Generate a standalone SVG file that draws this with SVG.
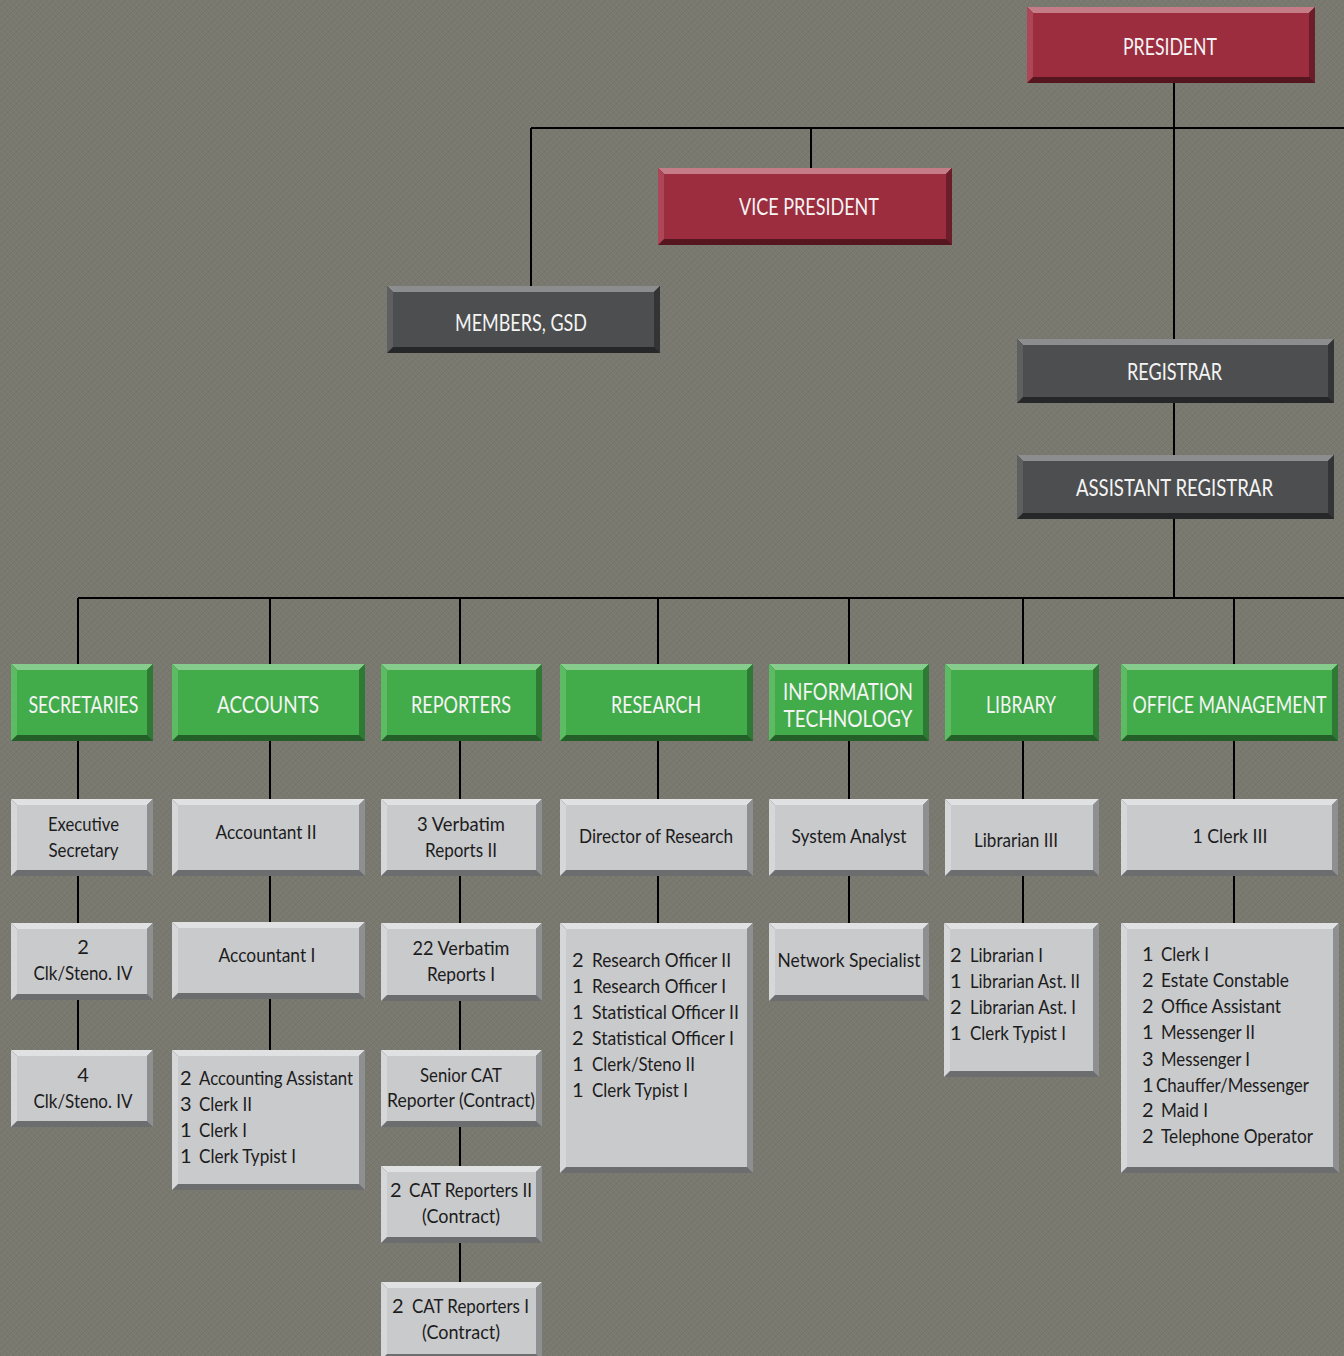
<svg xmlns="http://www.w3.org/2000/svg" width="1344" height="1356" viewBox="0 0 1344 1356">
<style>
.bgc{fill:#797970}
.ln{stroke:#000;stroke-width:2;fill:none}
.red .b{fill:#55161f}.red .t{fill:#c47c87}.red .l{fill:#ad4656}.red .rt{fill:#6b1d2a}.red .f{fill:#9b2d3f}
.dk .b{fill:#262729}.dk .t{fill:#8b8d8f}.dk .l{fill:#5e5f61}.dk .rt{fill:#333436}.dk .f{fill:#4d4e50}
.gr .b{fill:#245f29}.gr .t{fill:#86cc8c}.gr .l{fill:#5cbb63}.gr .rt{fill:#2e7a34}.gr .f{fill:#42ab4a}
.lt .b{fill:#6c6d6f}.lt .t{fill:#e0e1e3}.lt .l{fill:#d6d7d9}.lt .rt{fill:#8e8f91}.lt .f{fill:#c9cacc}
.h{font-family:Lato,"Liberation Sans",sans-serif;font-size:23px;fill:#f4f4f4;text-anchor:middle}
.x{font-family:Lato,"Liberation Sans",sans-serif;font-size:20px;fill:#1c1c1c}
.c{text-anchor:middle}
</style>
<defs>
<pattern id="tex" width="6" height="6" patternUnits="userSpaceOnUse">
<path d="M0,6 L6,0" stroke="#000" stroke-opacity="0.05" stroke-width="1"/>
<path d="M0,0 L6,6" stroke="#fff" stroke-opacity="0.04" stroke-width="1"/>
</pattern>
</defs>
<rect class="bgc" x="0" y="0" width="1344" height="1356"/>
<rect fill="url(#tex)" x="0" y="0" width="1344" height="1356"/>

<g id="connectors" class="ln">
<path d="M1174,83 V598"/>
<path d="M531,128 H1344"/>
<path d="M811,128 V168"/>
<path d="M531,128 V286"/>
<path d="M78,598 H1344"/>
<path d="M78,598 V1050"/>
<path d="M270,598 V1050"/>
<path d="M460,598 V1282"/>
<path d="M658,598 V923"/>
<path d="M849,598 V923"/>
<path d="M1023,598 V923"/>
<path d="M1234,598 V923"/>
</g>

<g id="president" class="red">
<rect class="b" x="1027" y="7" width="288" height="76"/>
<path class="t" d="M1027,7 h288 l-6,6 h-276 z"/>
<path class="l" d="M1027,7 l6,6 v64 l-6,6 z"/>
<path class="rt" d="M1315,7 v76 l-6,-6 v-64 z"/>
<rect class="f" x="1033" y="13" width="276" height="64"/>
<text class="h" x="1170" y="55" textLength="94" lengthAdjust="spacingAndGlyphs">PRESIDENT</text>
</g>

<g id="vice-president" class="red">
<rect class="b" x="658" y="168" width="294" height="77"/>
<path class="t" d="M658,168 h294 l-6,6 h-282 z"/>
<path class="l" d="M658,168 l6,6 v65 l-6,6 z"/>
<path class="rt" d="M952,168 v77 l-6,-6 v-65 z"/>
<rect class="f" x="664" y="174" width="282" height="65"/>
<text class="h" x="809" y="215" textLength="140" lengthAdjust="spacingAndGlyphs">VICE PRESIDENT</text>
</g>

<g id="members-gsd" class="dk">
<rect class="b" x="387" y="286" width="273" height="67"/>
<path class="t" d="M387,286 h273 l-6,6 h-261 z"/>
<path class="l" d="M387,286 l6,6 v55 l-6,6 z"/>
<path class="rt" d="M660,286 v67 l-6,-6 v-55 z"/>
<rect class="f" x="393" y="292" width="261" height="55"/>
<text class="h" x="521" y="331" textLength="132" lengthAdjust="spacingAndGlyphs">MEMBERS, GSD</text>
</g>

<g id="registrar" class="dk">
<rect class="b" x="1017" y="339" width="317" height="64"/>
<path class="t" d="M1017,339 h317 l-6,6 h-305 z"/>
<path class="l" d="M1017,339 l6,6 v52 l-6,6 z"/>
<path class="rt" d="M1334,339 v64 l-6,-6 v-52 z"/>
<rect class="f" x="1023" y="345" width="305" height="52"/>
<text class="h" x="1174.5" y="380" textLength="95" lengthAdjust="spacingAndGlyphs">REGISTRAR</text>
</g>

<g id="assistant-registrar" class="dk">
<rect class="b" x="1017" y="455" width="317" height="64"/>
<path class="t" d="M1017,455 h317 l-6,6 h-305 z"/>
<path class="l" d="M1017,455 l6,6 v52 l-6,6 z"/>
<path class="rt" d="M1334,455 v64 l-6,-6 v-52 z"/>
<rect class="f" x="1023" y="461" width="305" height="52"/>
<text class="h" x="1174.5" y="496" textLength="197" lengthAdjust="spacingAndGlyphs">ASSISTANT REGISTRAR</text>
</g>

<g id="secretaries" class="gr">
<rect class="b" x="11" y="664" width="142" height="77"/>
<path class="t" d="M11,664 h142 l-6,6 h-130 z"/>
<path class="l" d="M11,664 l6,6 v65 l-6,6 z"/>
<path class="rt" d="M153,664 v77 l-6,-6 v-65 z"/>
<rect class="f" x="17" y="670" width="130" height="65"/>
<text class="h" x="83.5" y="713" textLength="110" lengthAdjust="spacingAndGlyphs">SECRETARIES</text>
</g>

<g id="accounts" class="gr">
<rect class="b" x="172" y="664" width="193" height="77"/>
<path class="t" d="M172,664 h193 l-6,6 h-181 z"/>
<path class="l" d="M172,664 l6,6 v65 l-6,6 z"/>
<path class="rt" d="M365,664 v77 l-6,-6 v-65 z"/>
<rect class="f" x="178" y="670" width="181" height="65"/>
<text class="h" x="268" y="713" textLength="102" lengthAdjust="spacingAndGlyphs">ACCOUNTS</text>
</g>

<g id="reporters" class="gr">
<rect class="b" x="381" y="664" width="161" height="77"/>
<path class="t" d="M381,664 h161 l-6,6 h-149 z"/>
<path class="l" d="M381,664 l6,6 v65 l-6,6 z"/>
<path class="rt" d="M542,664 v77 l-6,-6 v-65 z"/>
<rect class="f" x="387" y="670" width="149" height="65"/>
<text class="h" x="461" y="713" textLength="100" lengthAdjust="spacingAndGlyphs">REPORTERS</text>
</g>

<g id="research" class="gr">
<rect class="b" x="560" y="664" width="193" height="77"/>
<path class="t" d="M560,664 h193 l-6,6 h-181 z"/>
<path class="l" d="M560,664 l6,6 v65 l-6,6 z"/>
<path class="rt" d="M753,664 v77 l-6,-6 v-65 z"/>
<rect class="f" x="566" y="670" width="181" height="65"/>
<text class="h" x="656" y="713" textLength="90" lengthAdjust="spacingAndGlyphs">RESEARCH</text>
</g>

<g id="information-technology" class="gr">
<rect class="b" x="769" y="664" width="160" height="77"/>
<path class="t" d="M769,664 h160 l-6,6 h-148 z"/>
<path class="l" d="M769,664 l6,6 v65 l-6,6 z"/>
<path class="rt" d="M929,664 v77 l-6,-6 v-65 z"/>
<rect class="f" x="775" y="670" width="148" height="65"/>
<text class="h" x="848" y="700" textLength="130" lengthAdjust="spacingAndGlyphs">INFORMATION</text>
<text class="h" x="848" y="727" textLength="129" lengthAdjust="spacingAndGlyphs">TECHNOLOGY</text>
</g>

<g id="library" class="gr">
<rect class="b" x="945" y="664" width="154" height="77"/>
<path class="t" d="M945,664 h154 l-6,6 h-142 z"/>
<path class="l" d="M945,664 l6,6 v65 l-6,6 z"/>
<path class="rt" d="M1099,664 v77 l-6,-6 v-65 z"/>
<rect class="f" x="951" y="670" width="142" height="65"/>
<text class="h" x="1021" y="713" textLength="70" lengthAdjust="spacingAndGlyphs">LIBRARY</text>
</g>

<g id="office-management" class="gr">
<rect class="b" x="1121" y="664" width="217" height="77"/>
<path class="t" d="M1121,664 h217 l-6,6 h-205 z"/>
<path class="l" d="M1121,664 l6,6 v65 l-6,6 z"/>
<path class="rt" d="M1338,664 v77 l-6,-6 v-65 z"/>
<rect class="f" x="1127" y="670" width="205" height="65"/>
<text class="h" x="1229.5" y="713" textLength="194" lengthAdjust="spacingAndGlyphs">OFFICE MANAGEMENT</text>
</g>

<g id="executive-secretary" class="lt">
<rect class="b" x="11" y="799" width="142" height="77"/>
<path class="t" d="M11,799 h142 l-6,6 h-130 z"/>
<path class="l" d="M11,799 l6,6 v65 l-6,6 z"/>
<path class="rt" d="M153,799 v77 l-6,-6 v-65 z"/>
<rect class="f" x="17" y="805" width="130" height="65"/>
<text class="x c" x="83.5" y="831" textLength="71" lengthAdjust="spacingAndGlyphs">Executive</text>
<text class="x c" x="83.5" y="857" textLength="70" lengthAdjust="spacingAndGlyphs">Secretary</text>
</g>

<g id="accountant-ii" class="lt">
<rect class="b" x="172" y="799" width="193" height="77"/>
<path class="t" d="M172,799 h193 l-6,6 h-181 z"/>
<path class="l" d="M172,799 l6,6 v65 l-6,6 z"/>
<path class="rt" d="M365,799 v77 l-6,-6 v-65 z"/>
<rect class="f" x="178" y="805" width="181" height="65"/>
<text class="x c" x="266" y="839" textLength="101" lengthAdjust="spacingAndGlyphs">Accountant II</text>
</g>

<g id="verbatim-ii" class="lt">
<rect class="b" x="381" y="799" width="161" height="77"/>
<path class="t" d="M381,799 h161 l-6,6 h-149 z"/>
<path class="l" d="M381,799 l6,6 v65 l-6,6 z"/>
<path class="rt" d="M542,799 v77 l-6,-6 v-65 z"/>
<rect class="f" x="387" y="805" width="149" height="65"/>
<text class="x c" x="461" y="831" textLength="88" lengthAdjust="spacingAndGlyphs">3  Verbatim</text>
<text class="x c" x="461" y="857" textLength="72" lengthAdjust="spacingAndGlyphs">Reports II</text>
</g>

<g id="director-of-research" class="lt">
<rect class="b" x="560" y="799" width="193" height="77"/>
<path class="t" d="M560,799 h193 l-6,6 h-181 z"/>
<path class="l" d="M560,799 l6,6 v65 l-6,6 z"/>
<path class="rt" d="M753,799 v77 l-6,-6 v-65 z"/>
<rect class="f" x="566" y="805" width="181" height="65"/>
<text class="x c" x="656" y="843" textLength="154" lengthAdjust="spacingAndGlyphs">Director of Research</text>
</g>

<g id="system-analyst" class="lt">
<rect class="b" x="769" y="799" width="160" height="77"/>
<path class="t" d="M769,799 h160 l-6,6 h-148 z"/>
<path class="l" d="M769,799 l6,6 v65 l-6,6 z"/>
<path class="rt" d="M929,799 v77 l-6,-6 v-65 z"/>
<rect class="f" x="775" y="805" width="148" height="65"/>
<text class="x c" x="849" y="843" textLength="115" lengthAdjust="spacingAndGlyphs">System Analyst</text>
</g>

<g id="librarian-iii" class="lt">
<rect class="b" x="945" y="799" width="154" height="77"/>
<path class="t" d="M945,799 h154 l-6,6 h-142 z"/>
<path class="l" d="M945,799 l6,6 v65 l-6,6 z"/>
<path class="rt" d="M1099,799 v77 l-6,-6 v-65 z"/>
<rect class="f" x="951" y="805" width="142" height="65"/>
<text class="x c" x="1016" y="847" textLength="84" lengthAdjust="spacingAndGlyphs">Librarian III</text>
</g>

<g id="clerk-iii" class="lt">
<rect class="b" x="1121" y="799" width="217" height="77"/>
<path class="t" d="M1121,799 h217 l-6,6 h-205 z"/>
<path class="l" d="M1121,799 l6,6 v65 l-6,6 z"/>
<path class="rt" d="M1338,799 v77 l-6,-6 v-65 z"/>
<rect class="f" x="1127" y="805" width="205" height="65"/>
<text class="x c" x="1230" y="843" textLength="75" lengthAdjust="spacingAndGlyphs">1  Clerk III</text>
</g>

<g id="clk-steno-2" class="lt">
<rect class="b" x="11" y="923" width="142" height="77"/>
<path class="t" d="M11,923 h142 l-6,6 h-130 z"/>
<path class="l" d="M11,923 l6,6 v65 l-6,6 z"/>
<path class="rt" d="M153,923 v77 l-6,-6 v-65 z"/>
<rect class="f" x="17" y="929" width="130" height="65"/>
<text class="x c" x="83" y="954">2</text>
<text class="x c" x="83" y="980" textLength="99" lengthAdjust="spacingAndGlyphs">Clk/Steno. IV</text>
</g>

<g id="accountant-i" class="lt">
<rect class="b" x="172" y="922" width="193" height="77"/>
<path class="t" d="M172,922 h193 l-6,6 h-181 z"/>
<path class="l" d="M172,922 l6,6 v65 l-6,6 z"/>
<path class="rt" d="M365,922 v77 l-6,-6 v-65 z"/>
<rect class="f" x="178" y="928" width="181" height="65"/>
<text class="x c" x="267" y="962" textLength="97" lengthAdjust="spacingAndGlyphs">Accountant I</text>
</g>

<g id="verbatim-i" class="lt">
<rect class="b" x="381" y="923" width="161" height="78"/>
<path class="t" d="M381,923 h161 l-6,6 h-149 z"/>
<path class="l" d="M381,923 l6,6 v66 l-6,6 z"/>
<path class="rt" d="M542,923 v78 l-6,-6 v-66 z"/>
<rect class="f" x="387" y="929" width="149" height="66"/>
<text class="x c" x="461" y="955" textLength="97" lengthAdjust="spacingAndGlyphs">22  Verbatim</text>
<text class="x c" x="461" y="981" textLength="68" lengthAdjust="spacingAndGlyphs">Reports I</text>
</g>

<g id="research-staff" class="lt">
<rect class="b" x="560" y="923" width="193" height="250"/>
<path class="t" d="M560,923 h193 l-6,6 h-181 z"/>
<path class="l" d="M560,923 l6,6 v238 l-6,6 z"/>
<path class="rt" d="M753,923 v250 l-6,-6 v-238 z"/>
<rect class="f" x="566" y="929" width="181" height="238"/>
<text class="x" y="967"><tspan x="572">2</tspan><tspan x="592" textLength="139" lengthAdjust="spacingAndGlyphs">Research Officer II</tspan></text>
<text class="x" y="993"><tspan x="572">1</tspan><tspan x="592" textLength="134" lengthAdjust="spacingAndGlyphs">Research Officer I</tspan></text>
<text class="x" y="1019"><tspan x="572">1</tspan><tspan x="592" textLength="147" lengthAdjust="spacingAndGlyphs">Statistical Officer II</tspan></text>
<text class="x" y="1045"><tspan x="572">2</tspan><tspan x="592" textLength="142" lengthAdjust="spacingAndGlyphs">Statistical Officer I</tspan></text>
<text class="x" y="1071"><tspan x="572">1</tspan><tspan x="592" textLength="103" lengthAdjust="spacingAndGlyphs">Clerk/Steno II</tspan></text>
<text class="x" y="1097"><tspan x="572">1</tspan><tspan x="592" textLength="96" lengthAdjust="spacingAndGlyphs">Clerk Typist I</tspan></text>
</g>

<g id="network-specialist" class="lt">
<rect class="b" x="769" y="923" width="160" height="78"/>
<path class="t" d="M769,923 h160 l-6,6 h-148 z"/>
<path class="l" d="M769,923 l6,6 v66 l-6,6 z"/>
<path class="rt" d="M929,923 v78 l-6,-6 v-66 z"/>
<rect class="f" x="775" y="929" width="148" height="66"/>
<text class="x c" x="849" y="967" textLength="143" lengthAdjust="spacingAndGlyphs">Network Specialist</text>
</g>

<g id="library-staff" class="lt">
<rect class="b" x="944" y="923" width="155" height="154"/>
<path class="t" d="M944,923 h155 l-6,6 h-143 z"/>
<path class="l" d="M944,923 l6,6 v142 l-6,6 z"/>
<path class="rt" d="M1099,923 v154 l-6,-6 v-142 z"/>
<rect class="f" x="950" y="929" width="143" height="142"/>
<text class="x" y="962"><tspan x="950">2</tspan><tspan x="970" textLength="73" lengthAdjust="spacingAndGlyphs">Librarian I</tspan></text>
<text class="x" y="988"><tspan x="950">1</tspan><tspan x="970" textLength="110" lengthAdjust="spacingAndGlyphs">Librarian Ast. II</tspan></text>
<text class="x" y="1014"><tspan x="950">2</tspan><tspan x="970" textLength="106" lengthAdjust="spacingAndGlyphs">Librarian Ast. I</tspan></text>
<text class="x" y="1040"><tspan x="950">1</tspan><tspan x="970" textLength="96" lengthAdjust="spacingAndGlyphs">Clerk Typist I</tspan></text>
</g>

<g id="office-staff" class="lt">
<rect class="b" x="1121" y="923" width="218" height="250"/>
<path class="t" d="M1121,923 h218 l-6,6 h-206 z"/>
<path class="l" d="M1121,923 l6,6 v238 l-6,6 z"/>
<path class="rt" d="M1339,923 v250 l-6,-6 v-238 z"/>
<rect class="f" x="1127" y="929" width="206" height="238"/>
<text class="x" y="961"><tspan x="1142">1</tspan><tspan x="1161" textLength="48" lengthAdjust="spacingAndGlyphs">Clerk I</tspan></text>
<text class="x" y="987"><tspan x="1142">2</tspan><tspan x="1161" textLength="128" lengthAdjust="spacingAndGlyphs">Estate Constable</tspan></text>
<text class="x" y="1013"><tspan x="1142">2</tspan><tspan x="1161" textLength="120" lengthAdjust="spacingAndGlyphs">Office Assistant</tspan></text>
<text class="x" y="1039"><tspan x="1142">1</tspan><tspan x="1161" textLength="94" lengthAdjust="spacingAndGlyphs">Messenger II</tspan></text>
<text class="x" y="1066"><tspan x="1142">3</tspan><tspan x="1161" textLength="89" lengthAdjust="spacingAndGlyphs">Messenger I</tspan></text>
<text class="x" y="1092"><tspan x="1142">1</tspan><tspan x="1156" textLength="153" lengthAdjust="spacingAndGlyphs">Chauffer/Messenger</tspan></text>
<text class="x" y="1117"><tspan x="1142">2</tspan><tspan x="1161" textLength="47" lengthAdjust="spacingAndGlyphs">Maid I</tspan></text>
<text class="x" y="1143"><tspan x="1142">2</tspan><tspan x="1161" textLength="152" lengthAdjust="spacingAndGlyphs">Telephone Operator</tspan></text>
</g>

<g id="clk-steno-4" class="lt">
<rect class="b" x="11" y="1050" width="142" height="77"/>
<path class="t" d="M11,1050 h142 l-6,6 h-130 z"/>
<path class="l" d="M11,1050 l6,6 v65 l-6,6 z"/>
<path class="rt" d="M153,1050 v77 l-6,-6 v-65 z"/>
<rect class="f" x="17" y="1056" width="130" height="65"/>
<text class="x c" x="83" y="1082">4</text>
<text class="x c" x="83" y="1108" textLength="99" lengthAdjust="spacingAndGlyphs">Clk/Steno. IV</text>
</g>

<g id="accounts-staff" class="lt">
<rect class="b" x="172" y="1050" width="193" height="140"/>
<path class="t" d="M172,1050 h193 l-6,6 h-181 z"/>
<path class="l" d="M172,1050 l6,6 v128 l-6,6 z"/>
<path class="rt" d="M365,1050 v140 l-6,-6 v-128 z"/>
<rect class="f" x="178" y="1056" width="181" height="128"/>
<text class="x" y="1085"><tspan x="180">2</tspan><tspan x="199" textLength="154" lengthAdjust="spacingAndGlyphs">Accounting Assistant</tspan></text>
<text class="x" y="1111"><tspan x="180">3</tspan><tspan x="199" textLength="53" lengthAdjust="spacingAndGlyphs">Clerk II</tspan></text>
<text class="x" y="1137"><tspan x="180">1</tspan><tspan x="199" textLength="48" lengthAdjust="spacingAndGlyphs">Clerk I</tspan></text>
<text class="x" y="1163"><tspan x="180">1</tspan><tspan x="199" textLength="97" lengthAdjust="spacingAndGlyphs">Clerk Typist I</tspan></text>
</g>

<g id="senior-cat" class="lt">
<rect class="b" x="381" y="1050" width="161" height="77"/>
<path class="t" d="M381,1050 h161 l-6,6 h-149 z"/>
<path class="l" d="M381,1050 l6,6 v65 l-6,6 z"/>
<path class="rt" d="M542,1050 v77 l-6,-6 v-65 z"/>
<rect class="f" x="387" y="1056" width="149" height="65"/>
<text class="x c" x="461" y="1082" textLength="82" lengthAdjust="spacingAndGlyphs">Senior CAT</text>
<text class="x c" x="461" y="1107" textLength="148" lengthAdjust="spacingAndGlyphs">Reporter (Contract)</text>
</g>

<g id="cat-ii" class="lt">
<rect class="b" x="381" y="1166" width="161" height="77"/>
<path class="t" d="M381,1166 h161 l-6,6 h-149 z"/>
<path class="l" d="M381,1166 l6,6 v65 l-6,6 z"/>
<path class="rt" d="M542,1166 v77 l-6,-6 v-65 z"/>
<rect class="f" x="387" y="1172" width="149" height="65"/>
<text class="x" y="1197"><tspan x="390">2</tspan><tspan x="409" textLength="123" lengthAdjust="spacingAndGlyphs">CAT Reporters II</tspan></text>
<text class="x c" x="461" y="1223" textLength="78" lengthAdjust="spacingAndGlyphs">(Contract)</text>
</g>

<g id="cat-i" class="lt">
<rect class="b" x="381" y="1282" width="161" height="78"/>
<path class="t" d="M381,1282 h161 l-6,6 h-149 z"/>
<path class="l" d="M381,1282 l6,6 v66 l-6,6 z"/>
<path class="rt" d="M542,1282 v78 l-6,-6 v-66 z"/>
<rect class="f" x="387" y="1288" width="149" height="66"/>
<text class="x" y="1313"><tspan x="392">2</tspan><tspan x="412" textLength="117" lengthAdjust="spacingAndGlyphs">CAT Reporters I</tspan></text>
<text class="x c" x="461" y="1339" textLength="78" lengthAdjust="spacingAndGlyphs">(Contract)</text>
</g>
</svg>
